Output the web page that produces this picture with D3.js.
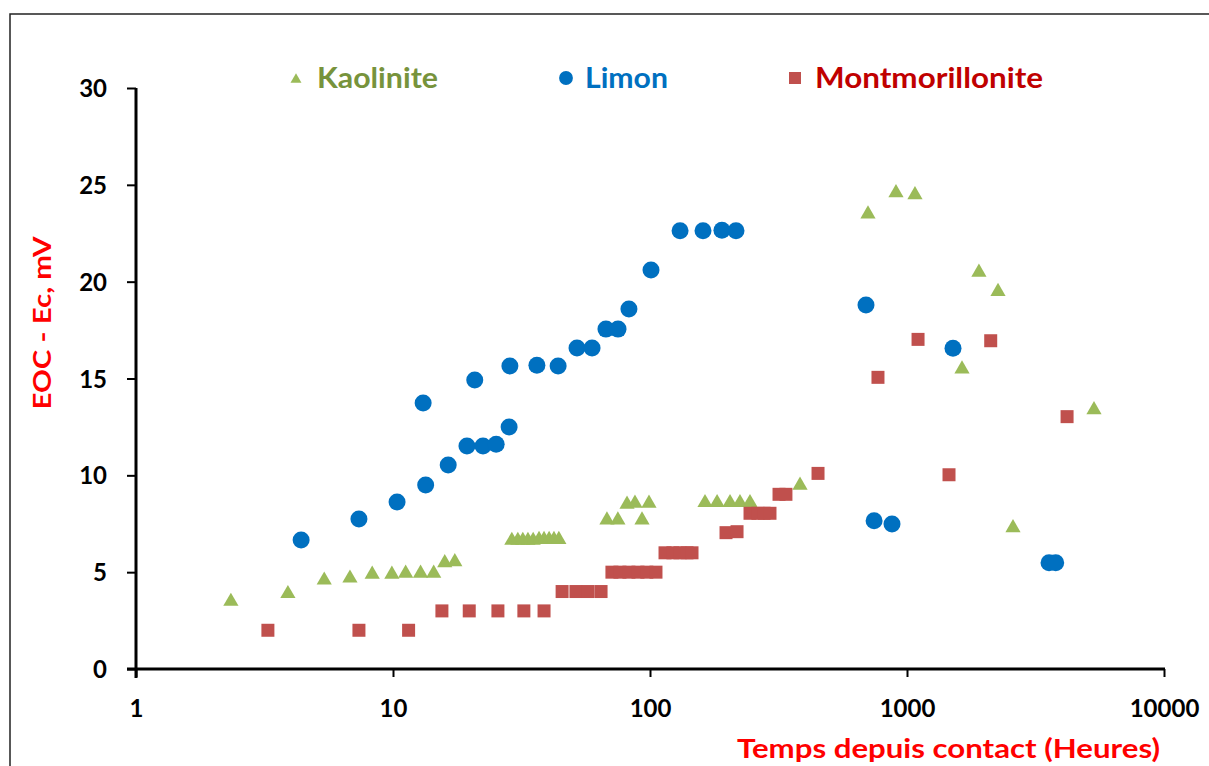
<!DOCTYPE html>
<html>
<head>
<meta charset="utf-8">
<script src="https://cdn.jsdelivr.net/npm/d3@7/dist/d3.min.js"></script>
<style>
  html, body { margin: 0; padding: 0; background: #fff; }
  svg { display: block; }
</style>
</head>
<body>
<svg id="chart" width="1209" height="766"></svg>
<script>
// ---- Data ----
const kaolX = [2.34, 3.9, 5.4, 6.8, 8.3, 9.9, 11.2, 12.8, 14.4, 15.9, 17.4,
  29.0, 30.6, 32.0, 33.5, 35.1, 37.0, 38.7, 40.5, 42.3, 44.2,
  68.0, 75.0, 81.4, 87.4, 93.1, 99.1,
  163.7, 182.4, 204.8, 223.9, 244.9, 383.5,
  705, 906, 1074, 1905, 2260, 1637, 5341, 2585];
const kaolY = [3.6, 4.0, 4.7, 4.8, 5.0, 5.0, 5.05, 5.05, 5.05, 5.6, 5.65,
  6.75, 6.75, 6.75, 6.75, 6.75, 6.8, 6.8, 6.8, 6.8, 6.8,
  7.8, 7.8, 8.62, 8.67, 7.8, 8.67,
  8.7, 8.7, 8.7, 8.7, 8.7, 9.6,
  23.6, 24.7, 24.6, 20.6, 19.6, 15.6, 13.5, 7.4];

const limonX = [4.39, 7.37, 10.37, 13.4, 16.4, 13.1, 19.4, 20.8, 22.4, 25.2, 28.3,
  28.5, 36.3, 43.9, 52.0, 59.5, 67.4, 75.1, 82.8, 100.9,
  130.9, 160.8, 190.5, 216.1, 692.5, 744.7, 874.2, 1510, 3570, 3790];
const limonY = [6.66, 7.74, 8.62, 9.5, 10.53, 13.73, 11.51, 14.92, 11.51, 11.6, 12.49,
  15.64, 15.69, 15.64, 16.57, 16.57, 17.55, 17.55, 18.59, 20.6,
  22.63, 22.63, 22.66, 22.63, 18.79, 7.66, 7.49, 16.56, 5.49, 5.49];

const montX = [3.26, 7.37, 11.5, 15.5, 19.8, 25.6, 32.3, 38.7,
  45.5, 51.5, 57.4, 64.5,
  71.1, 76.4, 82.8, 89.8, 97.2, 105.5,
  114.4, 122.8, 130.8, 139.3, 145.7,
  197.6, 218.1, 245, 263, 278, 293, 317.7, 338,
  450.6, 771, 1104, 2117, 1457, 4196];
const montY = [2.0, 2.0, 2.0, 3.0, 3.0, 3.0, 3.0, 3.0,
  4.0, 4.0, 4.0, 4.0,
  5.0, 5.0, 5.0, 5.0, 5.0, 5.0,
  6.0, 6.0, 6.0, 6.0, 6.0,
  7.04, 7.09, 8.04, 8.04, 8.04, 8.04, 9.02, 9.02,
  10.1, 15.06, 17.02, 16.95, 10.03, 13.03];

const xTicks = [1, 10, 100, 1000, 10000];
const yTicks = [0, 5, 10, 15, 20, 25, 30];
const seriesNames = ["Kaolinite", "Limon", "Montmorillonite"];

// ---- Chart ----
const svg = d3.select("#chart");
const FONT = "Lato, 'Open Sans', sans-serif";

const x = d3.scaleLog().domain([1, 10000]).range([136, 1164]);
const y = d3.scaleLinear().domain([0, 30]).range([669, 88]);

// triangle marker centred on its bounding box (as in spreadsheet charts)
const boxTriangle = {
  draw(ctx, size) {
    const s = Math.sqrt(size * 4 / Math.sqrt(3));
    const h = s * Math.sqrt(3) / 2;
    ctx.moveTo(0, -h / 2);
    ctx.lineTo(s / 2, h / 2);
    ctx.lineTo(-s / 2, h / 2);
    ctx.closePath();
  }
};

// outer frame
svg.append("rect").attr("x", 10).attr("y", 14).attr("width", 1300).attr("height", 900)
  .attr("fill", "none").attr("stroke", "#222").attr("stroke-width", 1.5);

// axes
const xAxis = d3.axisBottom(x).tickValues(xTicks).tickFormat(d3.format("d")).tickSize(8).tickSizeOuter(0);
const gx = svg.append("g").attr("transform", "translate(0,669)").call(xAxis);
gx.select(".domain").attr("stroke", "#000").attr("stroke-width", 3).attr("d", "M127,0H1165");
gx.selectAll(".tick line").attr("stroke", "#000").attr("stroke-width", 2);
gx.selectAll(".tick text").attr("font-family", FONT).attr("font-weight", "bold")
  .attr("font-size", 24).attr("fill", "#000").attr("y", 48).attr("dy", 0);

const yAxis = d3.axisLeft(y).tickValues(yTicks).tickSize(9).tickSizeOuter(0);
const gy = svg.append("g").attr("transform", "translate(136,0)").call(yAxis);
gy.select(".domain").attr("stroke", "#000").attr("stroke-width", 3).attr("d", "M0,88V678");
gy.selectAll(".tick line").attr("stroke", "#000").attr("stroke-width", 2);
gy.selectAll(".tick text").attr("font-family", FONT).attr("font-weight", "bold")
  .attr("font-size", 24).attr("fill", "#000").attr("x", -29).attr("dy", "0.36em");

// axis titles
svg.append("text").attr("transform", "translate(51,323) rotate(-90)")
  .attr("text-anchor", "middle").attr("font-family", FONT).attr("font-weight", "bold")
  .attr("font-size", 25).attr("fill", "#ff0000")
  .attr("textLength", 173).attr("lengthAdjust", "spacingAndGlyphs").text("EOC - Ec, mV");
svg.append("text").attr("x", 737).attr("y", 758)
  .attr("font-family", FONT).attr("font-weight", "bold")
  .attr("font-size", 26).attr("fill", "#ff0000")
  .attr("textLength", 423).attr("lengthAdjust", "spacingAndGlyphs").text("Temps depuis contact (Heures)");

// series
const series = [
  { name: seriesNames[0], xs: kaolX, ys: kaolY, sym: boxTriangle, size: 100, color: "#9bbb59", text: "#77933c", legSize: 52, lx: 296, tx: 317, tl: 121 },
  { name: seriesNames[1], xs: limonX, ys: limonY, sym: d3.symbolCircle, size: 227, color: "#0070c0", text: "#0070c0", legSize: 150, lx: 566, tx: 585, tl: 83 },
  { name: seriesNames[2], xs: montX, ys: montY, sym: d3.symbolSquare, size: 169, color: "#c0504d", text: "#c00000", legSize: 144, lx: 795, tx: 815, tl: 228 }
];

series.forEach(s => {
  const pts = s.xs.map((v, i) => [v, s.ys[i]]);
  svg.append("g").selectAll("path").data(pts).join("path")
    .attr("d", d3.symbol().type(s.sym).size(s.size))
    .attr("transform", d => `translate(${x(d[0])},${y(d[1])})`)
    .attr("fill", s.color);
  // legend
  svg.append("path").attr("d", d3.symbol().type(s.sym).size(s.legSize)())
    .attr("transform", `translate(${s.lx},78)`).attr("fill", s.color);
  svg.append("text").attr("x", s.tx).attr("y", 88).attr("font-family", FONT)
    .attr("font-weight", "bold").attr("font-size", 28).attr("fill", s.text)
    .attr("textLength", s.tl).attr("lengthAdjust", "spacingAndGlyphs").text(s.name);
});
</script>
</body>
</html>
